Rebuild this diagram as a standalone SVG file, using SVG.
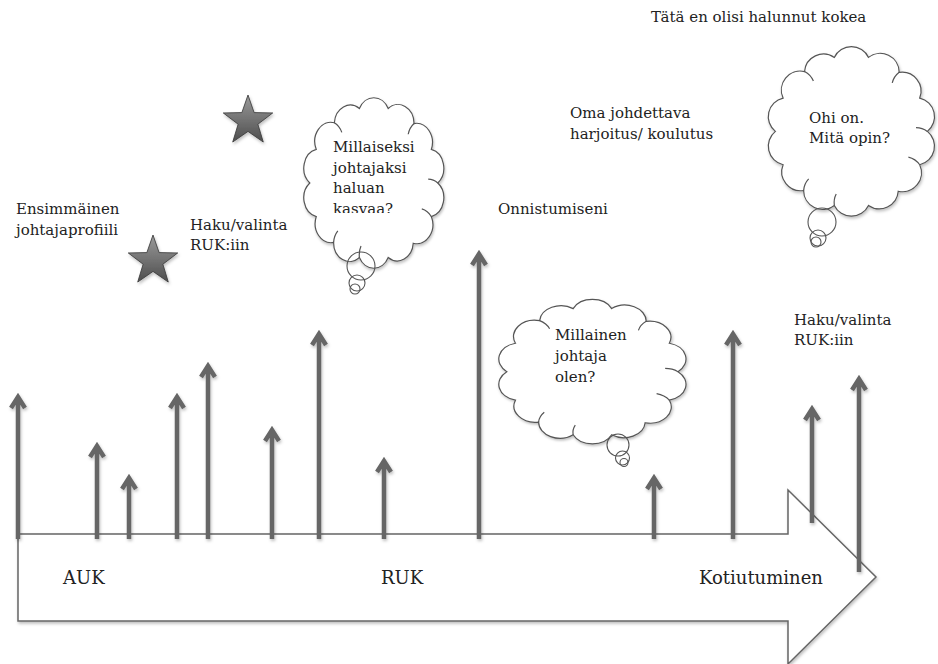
<svg xmlns="http://www.w3.org/2000/svg" width="938" height="664" viewBox="0 0 938 664">
  <style>
    .t { font-family: "DejaVu Serif", "Liberation Serif", serif; font-size: 15px; fill: #222; }
    .big { font-size: 18px; }
    .bar { stroke: #666; stroke-width: 4.5; fill: none; stroke-linejoin: miter; }
    .cloud { fill: #fff; stroke: #555; stroke-width: 1.2; }
    .fold { fill: none; stroke: #555; stroke-width: 1.2; }
    .bub { fill: none; stroke: #555; stroke-width: 1.1; }
  </style>
  <defs>
    <filter id="shadow" x="-10%" y="-10%" width="120%" height="130%">
      <feDropShadow dx="1" dy="2" stdDeviation="1.5" flood-color="#000" flood-opacity="0.25"/>
    </filter>
    <linearGradient id="starFill" x1="0" y1="0" x2="0" y2="1">
      <stop offset="0" stop-color="#9a9a9a"/>
      <stop offset="1" stop-color="#4e4e4e"/>
    </linearGradient>
    <!-- scalloped cloud outline in a 200x200 box -->
    <path id="cloudShape" vector-effect="non-scaling-stroke" d="M180,100 A20,20 0 0 1 171.9,135.1 A20,20 0 0 1 149.3,163 A20,20 0 0 1 118,177.9 A20,20 0 0 1 82,177.9 A20,20 0 0 1 49.7,162.2 A20,20 0 0 1 28.1,135.1 A20,20 0 0 1 20,100 A20,20 0 0 1 28.1,64.9 A20,20 0 0 1 50.7,37 A20,20 0 0 1 82,22.1 A20,20 0 0 1 118,22.1 A20,20 0 0 1 150.3,37.8 A20,20 0 0 1 171.9,64.9 A20,20 0 0 1 180,100 Z"/>
    <!-- short inner creases at some scallop joints -->
    <path id="cloudFolds" vector-effect="non-scaling-stroke" d="M171.9,135.1 A20,20 0 0 0 160,127 M49.7,162.2 A20,20 0 0 1 55,150 M50.7,37 A20,20 0 0 1 60,47 M150.3,37.8 A20,20 0 0 0 143,49 M82,177.9 A20,20 0 0 1 84,166 M180,100 A20,20 0 0 0 168,96"/>
    <polygon id="star" points="0,-25 5.88,-8.09 23.78,-7.73 9.51,3.09 14.69,20.23 0,10 -14.69,20.23 -9.51,3.09 -23.78,-7.73 -5.88,-8.09" fill="url(#starFill)" stroke="#3a3a3a" stroke-width="0.8"/>
    <clipPath id="cloud1Text"><rect x="320" y="120" width="120" height="93"/></clipPath>
  </defs>

  <rect width="938" height="664" fill="#fff"/>

  <!-- timeline arrow -->
  <g id="timeline">
    <path d="M18,534 H788 V490 L876,577 L788,664 V621 H18 Z" fill="#fff" stroke="#666" stroke-width="1.5" filter="url(#shadow)"/>
    <text class="t big" x="63" y="584">AUK</text>
    <text class="t big" x="381" y="584">RUK</text>
    <text class="t big" x="699" y="584">Kotiutuminen</text>
  </g>

  <!-- event markers -->
  <g id="connectors" class="bar" filter="url(#shadow)">
    <path d="M18,539 V398 M11,408 L18,397 L25,408"/>
    <path d="M97,539 V447 M90,457 L97,446 L104,457"/>
    <path d="M129,539 V479 M122,489 L129,478 L136,489"/>
    <path d="M177,539 V398 M170,408 L177,397 L184,408"/>
    <path d="M208,539 V367 M201,377 L208,366 L215,377"/>
    <path d="M272,539 V431 M265,441 L272,430 L279,441"/>
    <path d="M319,539 V335 M312,345 L319,334 L326,345"/>
    <path d="M384,539 V462 M377,472 L384,461 L391,472"/>
    <path d="M479,539 V255 M472,265 L479,254 L486,265"/>
    <path d="M654,539 V479 M647,489 L654,478 L661,489"/>
    <path d="M733,539 V335 M726,345 L733,334 L740,345"/>
    <path d="M812,523 V410 M805,420 L812,409 L819,420"/>
    <path d="M859,572 V380 M852,390 L859,379 L866,390"/>
  </g>

  <!-- stars -->
  <g id="star1"><use href="#star" transform="translate(248,121) scale(1.04)" filter="url(#shadow)"/></g>
  <g id="star2"><use href="#star" transform="translate(153,261) scale(1.04)" filter="url(#shadow)"/></g>

  <!-- labels -->
  <g id="label-profiili">
    <text class="t" x="16" y="214">Ensimmäinen</text>
    <text class="t" x="16" y="235">johtajaprofiili</text>
  </g>
  <g id="label-haku1">
    <text class="t" x="190" y="230">Haku/valinta</text>
    <text class="t" x="190" y="250">RUK:iin</text>
  </g>
  <g id="label-onnistuminen">
    <text class="t" x="498" y="214">Onnistumiseni</text>
  </g>
  <g id="label-harjoitus">
    <text class="t" x="570" y="118">Oma johdettava</text>
    <text class="t" x="570" y="139">harjoitus/ koulutus</text>
  </g>
  <g id="label-kokea">
    <text class="t" x="651" y="22">Tätä en olisi halunnut kokea</text>
  </g>
  <g id="label-haku2">
    <text class="t" x="794" y="325">Haku/valinta</text>
    <text class="t" x="794" y="345">RUK:iin</text>
  </g>

  <!-- thought clouds -->
  <g id="cloud1">
    <g transform="translate(293.8,87.4) scale(0.8,0.956)">
      <use href="#cloudShape" class="cloud" filter="url(#shadow)"/>
      <use href="#cloudFolds" class="fold"/>
    </g>
    <circle class="bub" cx="361" cy="266" r="14"/>
    <circle class="bub" cx="357" cy="283" r="8"/>
    <circle class="bub" cx="355" cy="289" r="5"/>
    <g clip-path="url(#cloud1Text)">
      <text class="t" x="333" y="152">Millaiseksi</text>
      <text class="t" x="333" y="173">johtajaksi</text>
      <text class="t" x="333" y="193">haluan</text>
      <text class="t" x="333" y="214">kasvaa?</text>
    </g>
  </g>
  <g id="cloud2">
    <g transform="translate(485.4,290.7) scale(1.07,0.81)">
      <use href="#cloudShape" class="cloud" filter="url(#shadow)"/>
      <use href="#cloudFolds" class="fold"/>
    </g>
    <circle class="bub" cx="618" cy="445" r="11"/>
    <circle class="bub" cx="622.5" cy="458" r="7"/>
    <circle class="bub" cx="624" cy="462.5" r="4"/>
    <text class="t" x="555" y="340">Millainen</text>
    <text class="t" x="555" y="361">johtaja</text>
    <text class="t" x="555" y="382">olen?</text>
  </g>
  <g id="cloud3">
    <g transform="translate(756.4,36.4) scale(0.95,0.95)">
      <use href="#cloudShape" class="cloud" filter="url(#shadow)"/>
      <use href="#cloudFolds" class="fold"/>
    </g>
    <circle class="bub" cx="822" cy="222" r="14"/>
    <circle class="bub" cx="818" cy="238" r="8"/>
    <circle class="bub" cx="816" cy="242" r="5"/>
    <text class="t" x="809" y="123">Ohi on.</text>
    <text class="t" x="809" y="143">Mitä opin?</text>
  </g>
</svg>
